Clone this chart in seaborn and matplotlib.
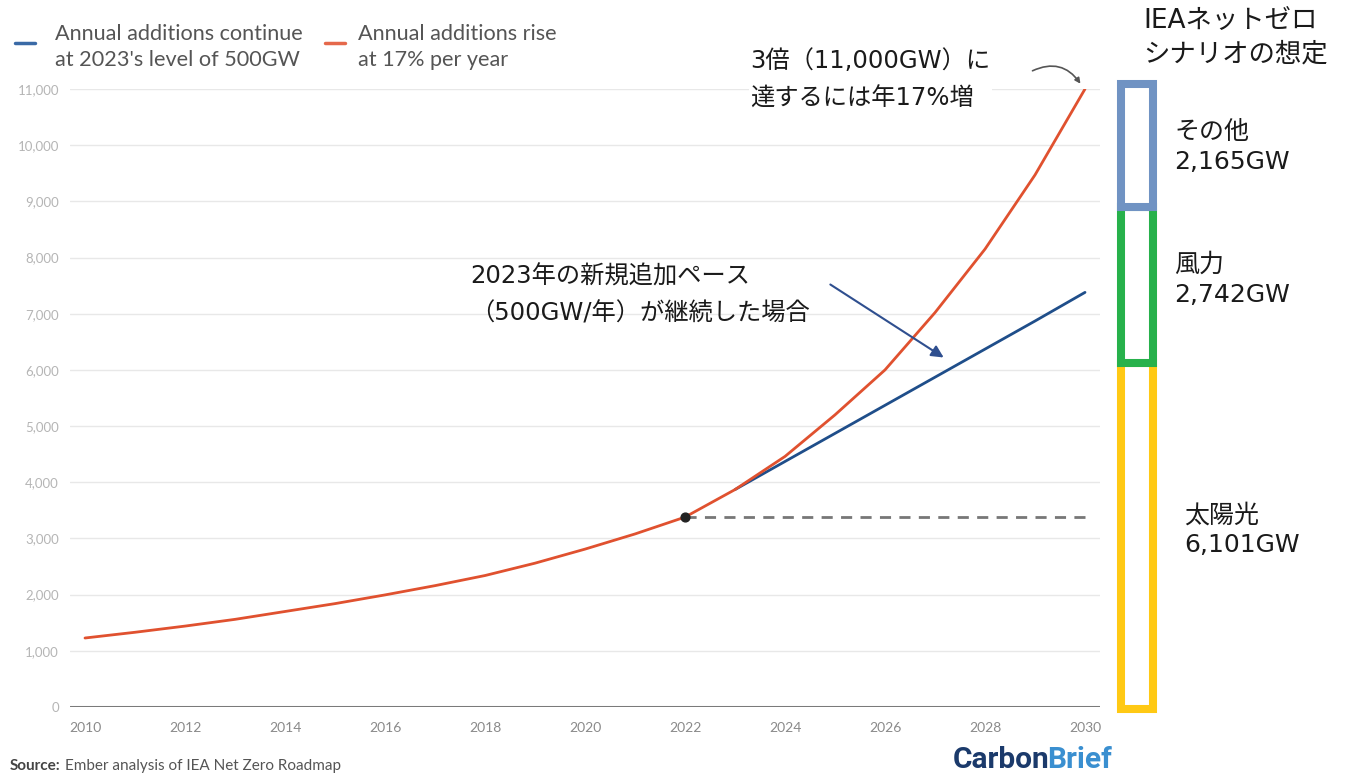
import numpy as np
import pandas as pd
import matplotlib
matplotlib.use("Agg")
import matplotlib.pyplot as plt
from matplotlib.lines import Line2D
import seaborn as sns

# ---- data ----
years = [2010, 2011, 2012, 2013, 2014, 2015, 2016, 2017, 2018, 2019, 2020,
         2021, 2022, 2023, 2024, 2025, 2026, 2027, 2028, 2029, 2030]
rise_17 = [1228, 1330, 1440, 1560, 1700, 1840, 1995, 2160, 2340, 2560, 2810,
           3080, 3380, 3870, 4460, 5200, 6000, 7020, 8150, 9470, 11000]
cont_years = [2023, 2024, 2025, 2026, 2027, 2028, 2029, 2030]
cont_500 = [3870, 4370, 4870, 5370, 5870, 6370, 6870, 7380]
flat_years = [2022, 2030]
flat_vals = [3380, 3380]
y_ticks = [0, 1000, 2000, 3000, 4000, 5000, 6000, 7000, 8000, 9000, 10000, 11000]
x_ticks = [2010, 2012, 2014, 2016, 2018, 2020, 2022, 2024, 2026, 2028, 2030]
mix_labels = ["太陽光", "風力", "その他"]
mix_values = [6101, 2742, 2165]
mix_colors = ["#ffc914", "#27b14b", "#7093c3"]

label_cont = "Annual additions continue\nat 2023's level of 500GW"
label_rise = "Annual additions rise\nat 17% per year"

sns.set_theme(style="white")
plt.rcParams['font.family'] = ['Noto Sans CJK JP', 'DejaVu Sans']
JP = ['DejaVu Sans', 'Noto Sans CJK JP']
LAT = ['Lato', 'DejaVu Sans']

fig = plt.figure(figsize=(13.5, 7.76), dpi=100)
W, H = 1350, 776


def fx(px):
    return px / W


def fy(py):
    return 1 - py / H


ax = fig.add_axes([fx(70), fy(707), (1100 - 70) / W, (707 - 89) / H])

df_rise = pd.DataFrame({"year": years, "value": rise_17})
df_cont = pd.DataFrame({"year": cont_years, "value": cont_500})
df_flat = pd.DataFrame({"year": flat_years, "value": flat_vals})

red = "#e0512f"
blue = "#1f4e8a"
sns.lineplot(data=df_flat, x="year", y="value", ax=ax, color="#777777",
             linestyle=(0, (4, 3)), linewidth=2)
sns.lineplot(data=df_cont, x="year", y="value", ax=ax, color=blue, linewidth=2)
sns.lineplot(data=df_rise, x="year", y="value", ax=ax, color=red, linewidth=2)
ax.scatter([flat_years[0]], [flat_vals[0]], color="#222222", s=40, zorder=5)

ax.set_xlim(2009.7, 2030.3)
ax.set_ylim(0, 11000)
ax.set_xticks(x_ticks)
ax.set_yticks(y_ticks)
ax.set_yticklabels([f"{v:,}" for v in y_ticks], color="#b5b5b5", fontsize=9.5,
                   family=LAT)
ax.set_xticklabels([str(v) for v in x_ticks], color="#8a8a8a", fontsize=10,
                   family=LAT)
ax.tick_params(axis="y", length=0, pad=8)
ax.tick_params(axis="x", length=0, pad=11)
ax.set_xlabel("")
ax.set_ylabel("")
for s in ax.spines.values():
    s.set_visible(False)
ax.grid(axis="y", color="#e8e8e8", linewidth=1)
ax.grid(axis="x", visible=False)
ax.axhline(0, color="#7a7a7a", linewidth=2.2, zorder=3)

# legend (drawn manually to match the layout)
fig.add_artist(Line2D([fx(15), fx(35)], [fy(43), fy(43)], color="#3a6aa6", lw=2.5))
fig.add_artist(Line2D([fx(325), fx(345)], [fy(43), fy(43)], color="#e5684b", lw=2.5))
fig.text(fx(55), fy(47), label_cont, fontsize=15.6, color="#555555",
         family=LAT, ha="left", va="center", linespacing=1.4)
fig.text(fx(358), fy(47), label_rise, fontsize=15.6, color="#555555",
         family=LAT, ha="left", va="center", linespacing=1.4)

# annotations
fig.text(fx(750), fy(80), "3倍（11,000GW）に\n達するには年17%増", fontsize=17.5,
         color="#1a1a1a", ha="left", va="center", linespacing=1.75, family=JP,
         bbox=dict(facecolor="white", edgecolor="none", pad=1))
fig.add_artist(matplotlib.patches.FancyArrowPatch(
    (fx(1030), fy(72)), (fx(1082), fy(86)), transform=fig.transFigure,
    arrowstyle="-|>", color="#555555", lw=1.2, mutation_scale=8,
    connectionstyle="arc3,rad=-0.45"))
fig.text(fx(470), fy(295), "2023年の新規追加ペース\n（500GW/年）が継続した場合",
         fontsize=17.5, color="#1a1a1a", ha="left", va="center",
         linespacing=1.68, family=JP)
fig.add_artist(matplotlib.patches.FancyArrowPatch(
    (fx(828), fy(283)), (fx(946), fy(359)), transform=fig.transFigure,
    arrowstyle="-|>", color="#2f4f8f", lw=1.5, mutation_scale=18))

# right-hand stacked outline bar for IEA Net Zero mix
bx = fig.add_axes([fx(1121), fy(709), 32 / W, (709 - 84) / H])
bottom = 0
for lab, val, col in zip(mix_labels, mix_values, mix_colors):
    bars = bx.bar([0], [val], bottom=bottom, width=1.0, facecolor="white",
                  edgecolor=col, linewidth=5.8)
    for b in bars:
        b.set_clip_on(False)
    bottom += val
bx.set_xlim(-0.5, 0.5)
bx.set_ylim(0, sum(mix_values))
bx.axis("off")

fig.text(fx(1143), fy(38), "IEAネットゼロ\nシナリオの想定", fontsize=19,
         ha="left", va="center", color="#1a1a1a", linespacing=1.35, family=JP)
fig.text(fx(1174), fy(147), "その他\n2,165GW", fontsize=18,
         ha="left", va="center", color="#1a1a1a", linespacing=1.3, family=JP)
fig.text(fx(1174), fy(280), "風力\n2,742GW", fontsize=18,
         ha="left", va="center", color="#1a1a1a", linespacing=1.3, family=JP)
fig.text(fx(1184), fy(530), "太陽光\n6,101GW", fontsize=18,
         ha="left", va="center", color="#1a1a1a", linespacing=1.3, family=JP)

# source and logo
t1 = fig.text(fx(10), fy(766), "Source:", fontsize=11, fontweight="bold",
              color="#444444", ha="left", va="center", family=LAT)
fig.canvas.draw()
bb = t1.get_window_extent()
fig.text((bb.x1 + 4) / W, fy(766), "Ember analysis of IEA Net Zero Roadmap",
         fontsize=11, color="#555555", ha="left", va="center", family=LAT)
fig.text(fx(1049), fy(760), "Carbon", fontsize=21.5, fontweight="bold",
         color="#1b3a6b", ha="right", va="center", family=["Roboto", "DejaVu Sans"])
fig.text(fx(1047), fy(760), "Brief", fontsize=21.5, fontweight="bold",
         color="#3a8fd0", ha="left", va="center", family=["Roboto", "DejaVu Sans"])

fig.savefig("out.png", dpi=100)
